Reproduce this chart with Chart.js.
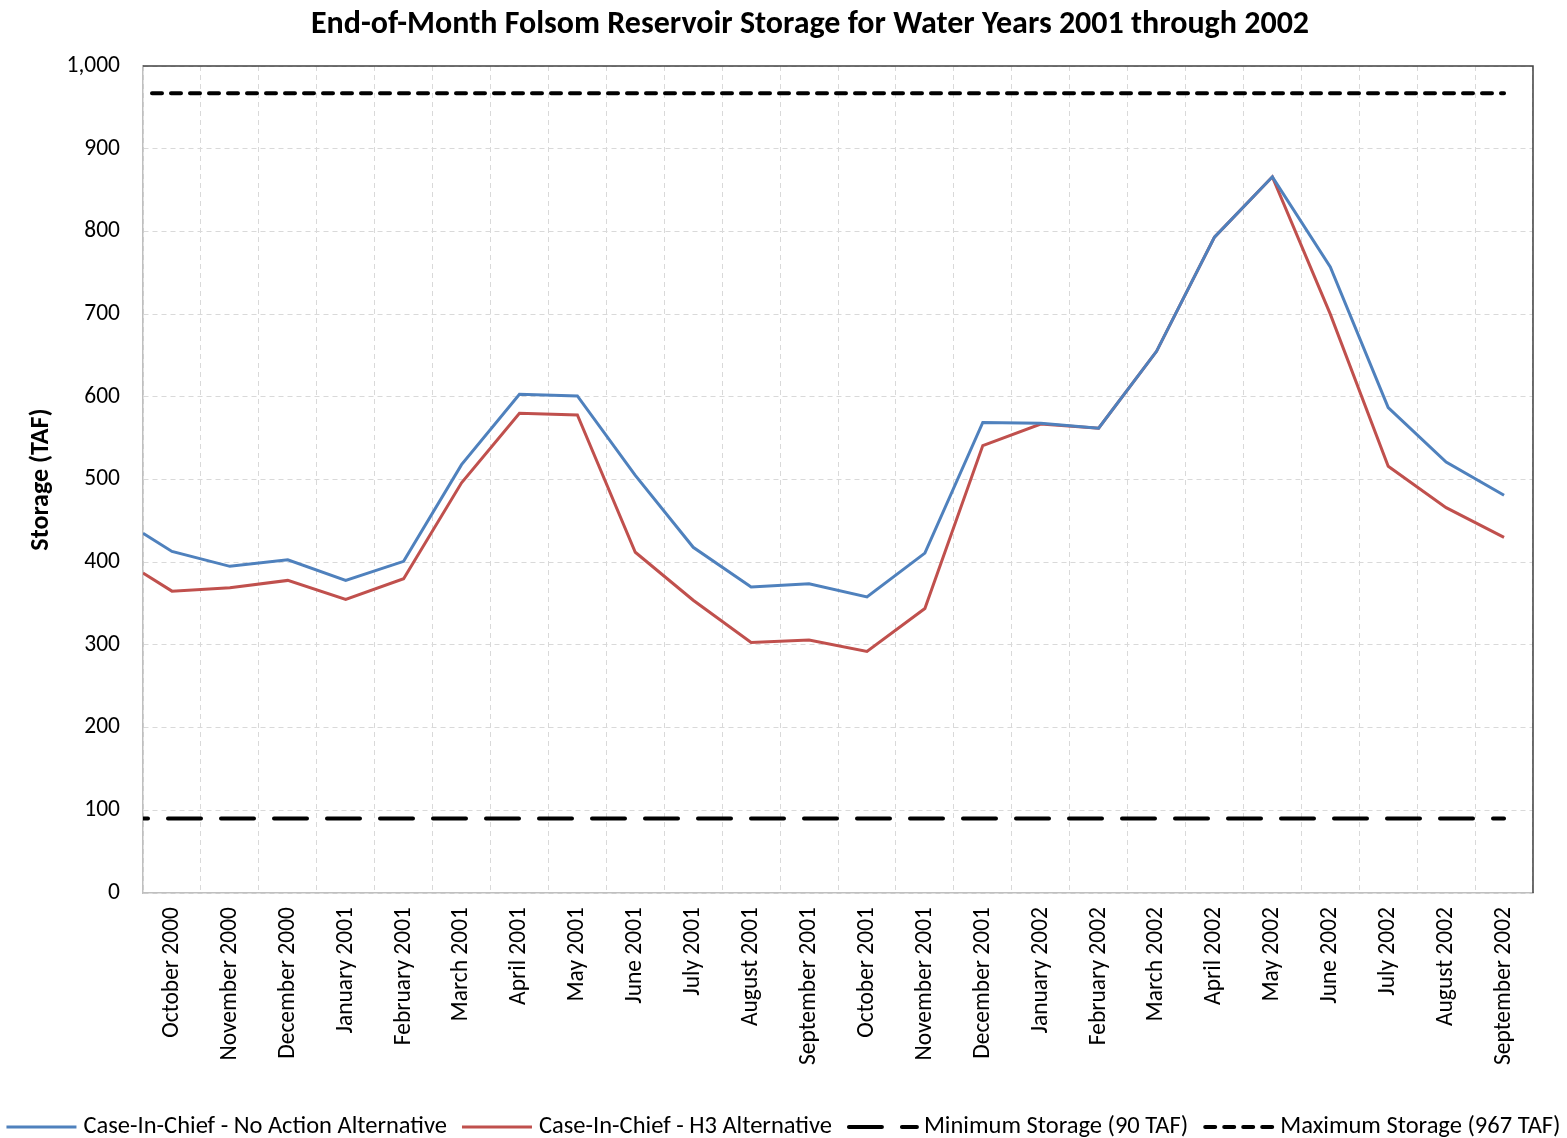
<!DOCTYPE html>
<html>
<head>
<meta charset="utf-8">
<script src="https://cdn.jsdelivr.net/npm/chart.js@4.4.0/dist/chart.umd.min.js"></script>
<style>
html,body{margin:0;padding:0;background:#fff;}
#wrap{width:1567px;height:1138px;}
</style>
</head>
<body>
<div id="wrap"><canvas id="c" width="1567" height="1138"></canvas></div>
<script>
// ---- data ----
const categories = ["October 2000","November 2000","December 2000","January 2001","February 2001","March 2001","April 2001","May 2001","June 2001","July 2001","August 2001","September 2001","October 2001","November 2001","December 2001","January 2002","February 2002","March 2002","April 2002","May 2002","June 2002","July 2002","August 2002","September 2002"];
const noActionStart = 435;
const noAction = [413,395,403,378,401,518,603,601,505,418,370,374,358,411,569,568,562,655,793,866,757,587,521,481];
const h3Start = 387;
const h3 = [365,369,378,355,380,496,580,578,412,354,303,306,292,344,541,567,562,655,793,866,700,516,466,430];
const minStorage = 90;
const maxStorage = 967;
const yTicks = [0,100,200,300,400,500,600,700,800,900,1000];
const seriesNames = ["Case-In-Chief - No Action Alternative","Case-In-Chief - H3 Alternative","Minimum Storage (90 TAF)","Maximum Storage (967 TAF)"];
const chartTitle = "End-of-Month Folsom Reservoir Storage for Water Years 2001 through 2002";

const FONT = "'Liberation Sans Narrow', Carlito, 'DejaVu Sans Condensed', sans-serif";

function series(start, vals){
  return [{x:-0.5, y:start}].concat(vals.map((v,i)=>({x:i, y:v})));
}
function flat(v){
  return [{x:-0.5, y:v}].concat(categories.map((c,i)=>({x:i, y:v})));
}

const frame = {
  id:'frame',
  afterDraw(chart){
    const {ctx, chartArea:a} = chart;
    ctx.save();
    ctx.strokeStyle = '#404040';
    ctx.lineWidth = 1.5;
    ctx.beginPath();
    ctx.moveTo(a.left, a.top);
    ctx.lineTo(a.right, a.top);
    ctx.lineTo(a.right, a.bottom);
    ctx.stroke();
    ctx.restore();
  }
};

const titlePlugin = {
  id:'customTitle',
  afterDraw(chart){
    const ctx = chart.ctx;
    ctx.save();
    ctx.font = 'bold 32px ' + FONT;
    ctx.fillStyle = '#000';
    ctx.textAlign = 'center';
    ctx.textBaseline = 'middle';
    ctx.fillText(chartTitle, 810, 25);
    ctx.restore();
  }
};

const customLegend = {
  id:'customLegend',
  afterDraw(chart){
    const ctx = chart.ctx;
    ctx.save();
    ctx.font = '24.5px ' + FONT;
    const items = chart.data.datasets.map(ds=>({text:ds.label, color:ds.borderColor, width:ds.borderWidth, dash:ds.borderDash||[], cap:ds.borderCapStyle||'butt'}));
    const lineLen = 70, gapLT = 7, gapItems = 15;
    const widths = items.map(it=>lineLen + gapLT + ctx.measureText(it.text).width);
    const total = widths.reduce((a,b)=>a+b,0) + gapItems*(items.length-1);
    let x = (chart.width - total)/2;
    const y = chart.height - 11;
    items.forEach((it,i)=>{
      ctx.save();
      ctx.strokeStyle = it.color;
      ctx.lineWidth = it.width;
      ctx.lineCap = it.cap;
      ctx.setLineDash(it.dash);
      ctx.beginPath();
      ctx.moveTo(x + (it.cap==='round'?2:0), y);
      ctx.lineTo(x + lineLen, y);
      ctx.stroke();
      ctx.restore();
      ctx.fillStyle = '#000';
      ctx.textAlign = 'left';
      ctx.textBaseline = 'middle';
      ctx.fillText(it.text, x + lineLen + gapLT, y);
      x += widths[i] + gapItems;
    });
    ctx.restore();
  }
};

new Chart(document.getElementById('c'), {
  type:'line',
  data:{
    labels: categories,
    datasets:[
      {label:seriesNames[0], data:series(noActionStart, noAction), borderColor:'#4f81bd', backgroundColor:'#4f81bd', borderWidth:3, pointRadius:0, xAxisID:'xl', yAxisID:'y'},
      {label:seriesNames[1], data:series(h3Start, h3), borderColor:'#c0504d', backgroundColor:'#c0504d', borderWidth:3, pointRadius:0, xAxisID:'xl', yAxisID:'y'},
      {label:seriesNames[2], data:flat(minStorage), borderColor:'#000', backgroundColor:'#000', borderWidth:4, borderDash:[33,20], borderDashOffset:28, borderCapStyle:'round', pointRadius:0, xAxisID:'xl', yAxisID:'y'},
      {label:seriesNames[3], data:flat(maxStorage), borderColor:'#000', backgroundColor:'#000', borderWidth:4, borderDash:[10,9], borderDashOffset:10, borderCapStyle:'round', pointRadius:0, xAxisID:'xl', yAxisID:'y'}
    ]
  },
  options:{
    responsive:false,
    animation:false,
    devicePixelRatio:1,
    layout:{padding:{left:0, right:34, top:66, bottom:0}},
    plugins:{
      title:{display:false},
      legend:{display:false},
      tooltip:{enabled:false}
    },
    scales:{
      x:{type:'category', labels:categories, offset:true,
         grid:{offset:true, color:'#d9d9d9', drawTicks:false},
         border:{color:'#bfbfbf', width:1.5, dash:[5,4]},
         ticks:{autoSkip:false, minRotation:90, maxRotation:90, padding:14, color:'#000', font:{family:FONT, size:23.5}},
         afterFit(s){ s.height = 245; }
      },
      xl:{type:'linear', display:false, min:-0.5, max:23.5},
      y:{type:'linear', min:0, max:1000,
         afterBuildTicks(s){ s.ticks = yTicks.map(v=>({value:v})); },
         grid:{color:'#d9d9d9', drawTicks:false},
         border:{color:'#bfbfbf', width:1.5, dash:[5,4]},
         ticks:{padding:23, color:'#000', font:{family:FONT, size:23.5}, callback:v=>v.toLocaleString('en-US')},
         title:{display:true, text:'Storage (TAF)', color:'#000', font:{family:FONT, size:26, weight:'bold'}, padding:{top:26, bottom:0}},
         afterFit(s){ s.width = 143; }
      }
    }
  },
  plugins:[frame, titlePlugin, customLegend]
});
</script>
</body>
</html>
